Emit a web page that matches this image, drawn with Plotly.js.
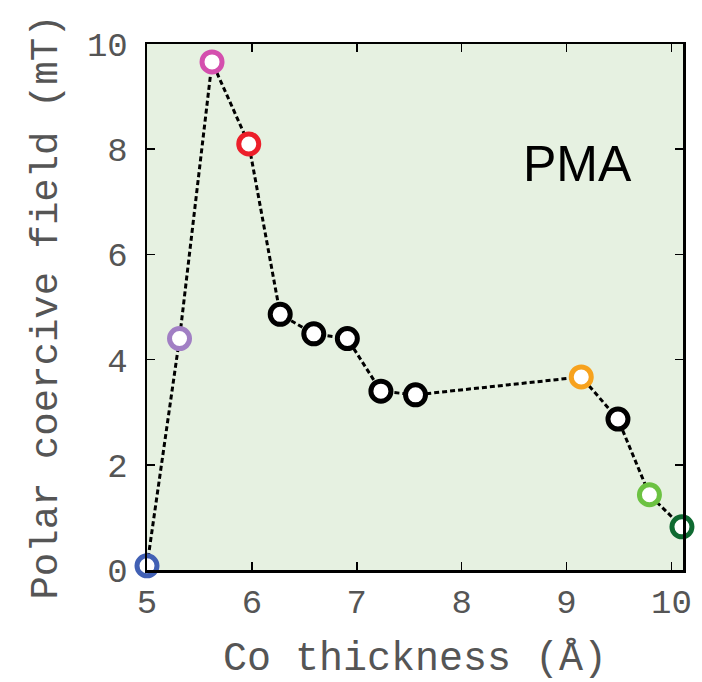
<!DOCTYPE html>
<html>
<head>
<meta charset="utf-8">
<script src="https://cdn.plot.ly/plotly-3.0.1.min.js"></script>
<style>html,body{margin:0;padding:0;background:#fff;}#chart{width:702px;height:682px;}</style>
</head>
<body>
<div id="chart"></div>
<script>
// Data
const coThickness = [5.0, 5.31, 5.62, 5.97, 6.27, 6.59, 6.91, 7.23, 7.56, 9.14, 9.49, 9.79, 10.1];
const coerciveField = [0.08, 4.40, 9.66, 8.10, 4.86, 4.49, 4.40, 3.40, 3.33, 3.67, 2.87, 1.43, 0.82];
const pointColors = ['#4160b4', '#a17fc4', '#d44fae', '#ec1f2a', '#000000', '#000000', '#000000', '#000000', '#000000', '#f7a21d', '#000000', '#6cc242', '#0f6a31'];
const xTicks = [5, 6, 7, 8, 9, 10];
const yTicks = [0, 2, 4, 6, 8, 10];
const regionLabel = 'PMA';

const mono = 'Liberation Mono, Courier New, monospace';

const trace = {
  x: coThickness,
  y: coerciveField,
  type: 'scatter',
  mode: 'lines+markers',
  cliponaxis: false,
  line: {color: '#000', width: 3, dash: '5px,3px'},
  marker: {
    symbol: 'circle',
    size: 20,
    color: '#ffffff',
    line: {color: pointColors, width: 5}
  },
  hoverinfo: 'skip'
};

const layout = {
  width: 702,
  height: 682,
  margin: {l: 147, r: 19, t: 44, b: 112},
  paper_bgcolor: '#ffffff',
  plot_bgcolor: '#e6f1e1',
  showlegend: false,
  xaxis: {
    range: [5, 10.11],
    tickvals: xTicks,
    ticktext: xTicks.map(String),
    ticks: 'inside',
    ticklen: 8,
    tickwidth: 1.5,
    tickcolor: '#000',
    showgrid: false,
    zeroline: false,
    showline: true,
    linecolor: '#000',
    linewidth: 2.5,
    mirror: 'ticks',
    tickfont: {family: mono, size: 34, color: '#555'},
    title: {text: 'Co thickness (Å)', font: {family: mono, size: 40, color: '#555'}, standoff: 32},
    automargin: false
  },
  yaxis: {
    range: [0, 10],
    tickvals: yTicks,
    ticktext: yTicks.map(String),
    ticks: 'inside',
    ticklen: 8,
    tickwidth: 1.5,
    tickcolor: '#000',
    showgrid: false,
    zeroline: false,
    showline: true,
    linecolor: '#000',
    linewidth: 2.5,
    mirror: 'ticks',
    ticklabelstandoff: 10,
    tickfont: {family: mono, size: 34, color: '#555'},
    title: {text: 'Polar coercive field (mT)', font: {family: mono, size: 39, color: '#555'}, standoff: 17},
    automargin: false
  },
  annotations: [{
    x: 9.1, y: 7.72, xref: 'x', yref: 'y',
    text: regionLabel,
    showarrow: false,
    font: {family: 'Liberation Sans, Arial, sans-serif', size: 50, color: '#000'}
  }]
};

Plotly.newPlot('chart', [trace], layout, {displayModeBar: false, staticPlot: true});
</script>
</body>
</html>
